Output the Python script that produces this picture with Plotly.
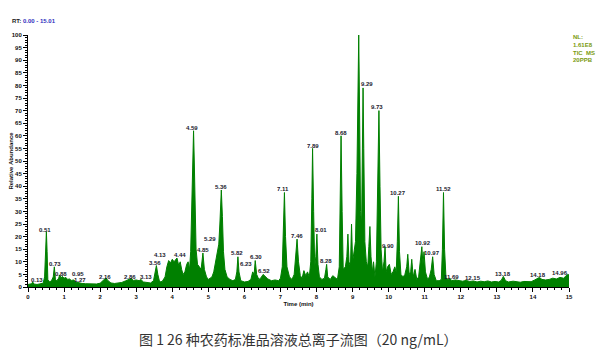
import plotly.graph_objects as go

# Retention time (min) and relative abundance (%)
rt = [0.00,0.05,0.10,0.13,0.16,0.25,0.35,0.42,0.46,0.48,0.51,0.53,0.55,0.60,0.65,0.70,0.73,0.76,0.80,0.85,
      0.88,0.92,0.95,1.00,1.05,1.10,1.15,1.20,1.27,1.32,1.40,1.50,1.60,1.70,1.80,1.90,2.00,2.08,2.16,2.22,
      2.30,2.40,2.50,2.60,2.70,2.78,2.86,2.92,3.00,3.08,3.13,3.20,3.30,3.40,3.48,3.53,3.56,3.60,3.65,3.72,
      3.80,3.85,3.90,3.95,4.00,4.05,4.10,4.13,4.18,4.22,4.26,4.30,4.35,4.40,4.44,4.48,4.51,4.55,4.58,4.59,
      4.61,4.63,4.66,4.70,4.75,4.80,4.85,4.89,4.95,5.00,5.05,5.10,5.15,5.20,5.25,5.29,5.32,5.36,5.39,5.42,
      5.46,5.52,5.60,5.68,5.75,5.79,5.82,5.85,5.90,6.00,6.10,6.18,6.23,6.27,6.30,6.34,6.40,6.45,6.52,6.58,
      6.65,6.75,6.85,6.95,7.00,7.05,7.08,7.11,7.14,7.18,7.25,7.32,7.38,7.42,7.46,7.50,7.55,7.60,7.65,7.70,
      7.75,7.80,7.84,7.87,7.89,7.92,7.95,7.98,8.01,8.04,8.08,8.15,8.22,8.26,8.28,8.31,8.38,8.45,8.52,8.58,
      8.63,8.66,8.68,8.71,8.74,8.80,8.84,8.87,8.90,8.94,8.97,9.00,9.04,9.08,9.12,9.15,9.17,9.19,9.22,9.25,
      9.27,9.29,9.31,9.34,9.38,9.42,9.45,9.48,9.51,9.55,9.58,9.62,9.66,9.69,9.73,9.76,9.79,9.83,9.87,9.90,
      9.93,9.97,10.02,10.07,10.12,10.17,10.21,10.24,10.27,10.30,10.34,10.40,10.45,10.50,10.53,10.57,10.61,10.64,10.68,10.73,
      10.78,10.83,10.88,10.92,10.95,10.98,11.02,11.08,11.13,11.18,11.22,11.26,11.32,11.40,11.46,11.49,11.52,11.55,11.59,11.65,
      11.69,11.75,11.85,11.95,12.05,12.15,12.25,12.35,12.45,12.55,12.65,12.75,12.85,12.95,13.05,13.12,13.18,13.24,13.32,13.45,
      13.55,13.65,13.75,13.85,13.95,14.05,14.12,14.18,14.25,14.35,14.45,14.55,14.65,14.75,14.85,14.92,14.96,15.00]
abundance = [1.0,1.2,1.3,2.0,1.2,1.0,1.2,1.5,4,15,22,14,3,2,2.5,4,8,3,2.5,3.5,
      4.8,3.5,4.2,3.5,3.8,3.0,3.2,2.6,2.8,2.0,1.6,1.4,1.3,1.2,1.3,1.2,1.5,2.5,3.6,2.5,
      1.6,1.4,1.5,1.8,2.4,3.0,3.4,2.6,2.8,2.5,3.0,2.0,1.8,1.6,2.5,6,8.5,5,2,2.2,
      4,8,10.5,9.5,11,10,11,11.5,8.5,10,7,5,6,9,10,7,14,35,55,62,
      50,30,15,9,8,7,13.5,7,4,3,3.5,4,6,10,13,17,25,38.5,28,14,
      7,4,3,2.5,3,6,12,6,2.5,2,2.2,3,6,5,10.5,5,3,3.5,5,4,
      3.2,2.5,2.8,2.5,3.5,8,20,37.5,20,8,4,3,5,12,19,10,4.5,3.5,6.5,4.5,
      6,4,10,35,55,30,8,12,21,9,4,3,3.5,7,9,4,3,4.5,3.5,3,
      8,40,60,30,7,8,12,21,10,8,25,10,14,18,45,85,100,75,30,25,
      55,79,55,18,10,8,16,24,12,6,10,4,10,40,70,40,15,6,10,16,
      6,8,9,5,6,8,6,18,36,14,5,4,5,8,13,5,6,11,4,7,
      3,4,10,16,9,14,6,3,4,7,12,5,2.5,2.5,3,15,37.5,15,3.5,3,
      3.5,2.5,2.8,2.5,2.3,2.6,2.2,2.4,2.0,2.3,2.1,2.4,2.0,2.2,2.0,2.6,4.2,2.5,2.0,2.3,
      2.0,1.9,2.2,2.0,2.1,2.8,3.2,3.8,3.0,2.8,3.0,3.5,3.2,3.8,3.5,4.5,5,4.8]

# Peak labels and where they sit (time, abundance)
peak_labels = ["0.13","0.51","0.73","0.88","0.95","1.27","2.16","2.86","3.13","3.56","4.13","4.44","4.59",
               "4.85","5.29","5.36","5.82","6.23","6.30","6.52","7.11","7.46","7.89","8.01","8.28","8.68",
               "9.17","9.29","9.73","9.90","10.27","10.92","10.97","11.52","11.69","12.15","13.18","14.18","14.96"]
label_rt = [0.25,0.47,0.75,0.91,1.39,1.44,2.13,2.83,3.27,3.52,3.66,4.21,4.55,
            4.85,5.05,5.35,5.79,6.04,6.32,6.54,7.07,7.46,7.90,8.12,8.26,8.68,
            9.15,9.40,9.68,9.98,10.26,10.95,11.20,11.51,11.75,12.34,13.17,14.14,14.75]
label_ab = [2.8,22.6,9.1,5.2,5.2,2.8,4.0,4.0,4.0,9.5,12.7,12.7,63.1,
            14.7,19.0,39.7,13.5,9.1,11.9,6.3,38.9,20.2,56.0,22.6,10.3,61.1,
            101.2,80.6,71.4,16.3,37.3,17.5,13.5,38.9,4.0,3.6,5.2,4.8,5.6]

y_ticks = list(range(0, 101, 5))
x_ticks = list(range(0, 16))

fig = go.Figure()
fig.add_trace(go.Scatter(x=rt, y=abundance, mode="lines",
                         line=dict(color="#008000", width=1),
                         fill="tozeroy", fillcolor="#008000",
                         hoverinfo="skip", showlegend=False))

for lab, xx, yy in zip(peak_labels, label_rt, label_ab):
    fig.add_annotation(x=xx, y=yy, text=f"<b>{lab}</b>", showarrow=False,
                       xanchor="center", yanchor="middle",
                       font=dict(family="Liberation Sans, Arial", size=6, color="#1a1a2e"))

fig.add_annotation(xref="paper", yref="paper", x=-0.033, y=1.035, xanchor="left", yanchor="bottom",
                   text="<b>RT: <span style='color:#3030c0'>0.00 - 15.01</span></b>", showarrow=False,
                   font=dict(family="Liberation Sans, Arial", size=6, color="#222"))
fig.add_annotation(xref="paper", yref="paper", x=1.003, y=1.01, xanchor="left", yanchor="top",
                   text="<b>NL:<br>1.61E8<br>TIC  MS<br>20PPB</b>", showarrow=False, align="left",
                   font=dict(family="Liberation Sans, Arial", size=6, color="#7a9a10"))
fig.add_annotation(xref="paper", yref="paper", x=0.5, y=-0.205, xanchor="center", yanchor="middle",
                   text="图 1 26 种农药标准品溶液总离子流图（20 ng/mL）", showarrow=False,
                   font=dict(family="Noto Sans CJK SC", size=14, color="#333"))

axis_font = dict(family="Liberation Sans, Arial", size=6, color="#111")
# page body adds an 8px margin, so the figure is 8px smaller and margins shifted
fig.update_layout(
    width=604, height=348,
    margin=dict(l=20, r=43, t=27, b=69, autoexpand=False),
    paper_bgcolor="white", plot_bgcolor="white",
    xaxis=dict(range=[0, 15], tickvals=x_ticks, ticktext=[f"<b>{v}</b>" for v in x_ticks],
               automargin=False,
               showgrid=False, zeroline=False, showline=True, linecolor="black", linewidth=1,
               ticks="outside", ticklen=4, tickcolor="black", tickfont=axis_font,
               minor=dict(dtick=0.2, ticks="outside", ticklen=2, tickcolor="black"),
               title=dict(text="<b>Time (min)</b>", font=axis_font, standoff=2)),
    yaxis=dict(range=[0, 100], tickvals=y_ticks, ticktext=[f"<b>{v}</b>" for v in y_ticks],
               automargin=False,
               showgrid=False, zeroline=False, showline=True, linecolor="black", linewidth=1,
               ticks="outside", ticklen=4, tickcolor="black", tickfont=axis_font,
               minor=dict(dtick=1, ticks="outside", ticklen=2, tickcolor="black"),
               title=dict(text="<b>Relative Abundance</b>", font=axis_font, standoff=2)),
)

fig.write_html("out.html")
